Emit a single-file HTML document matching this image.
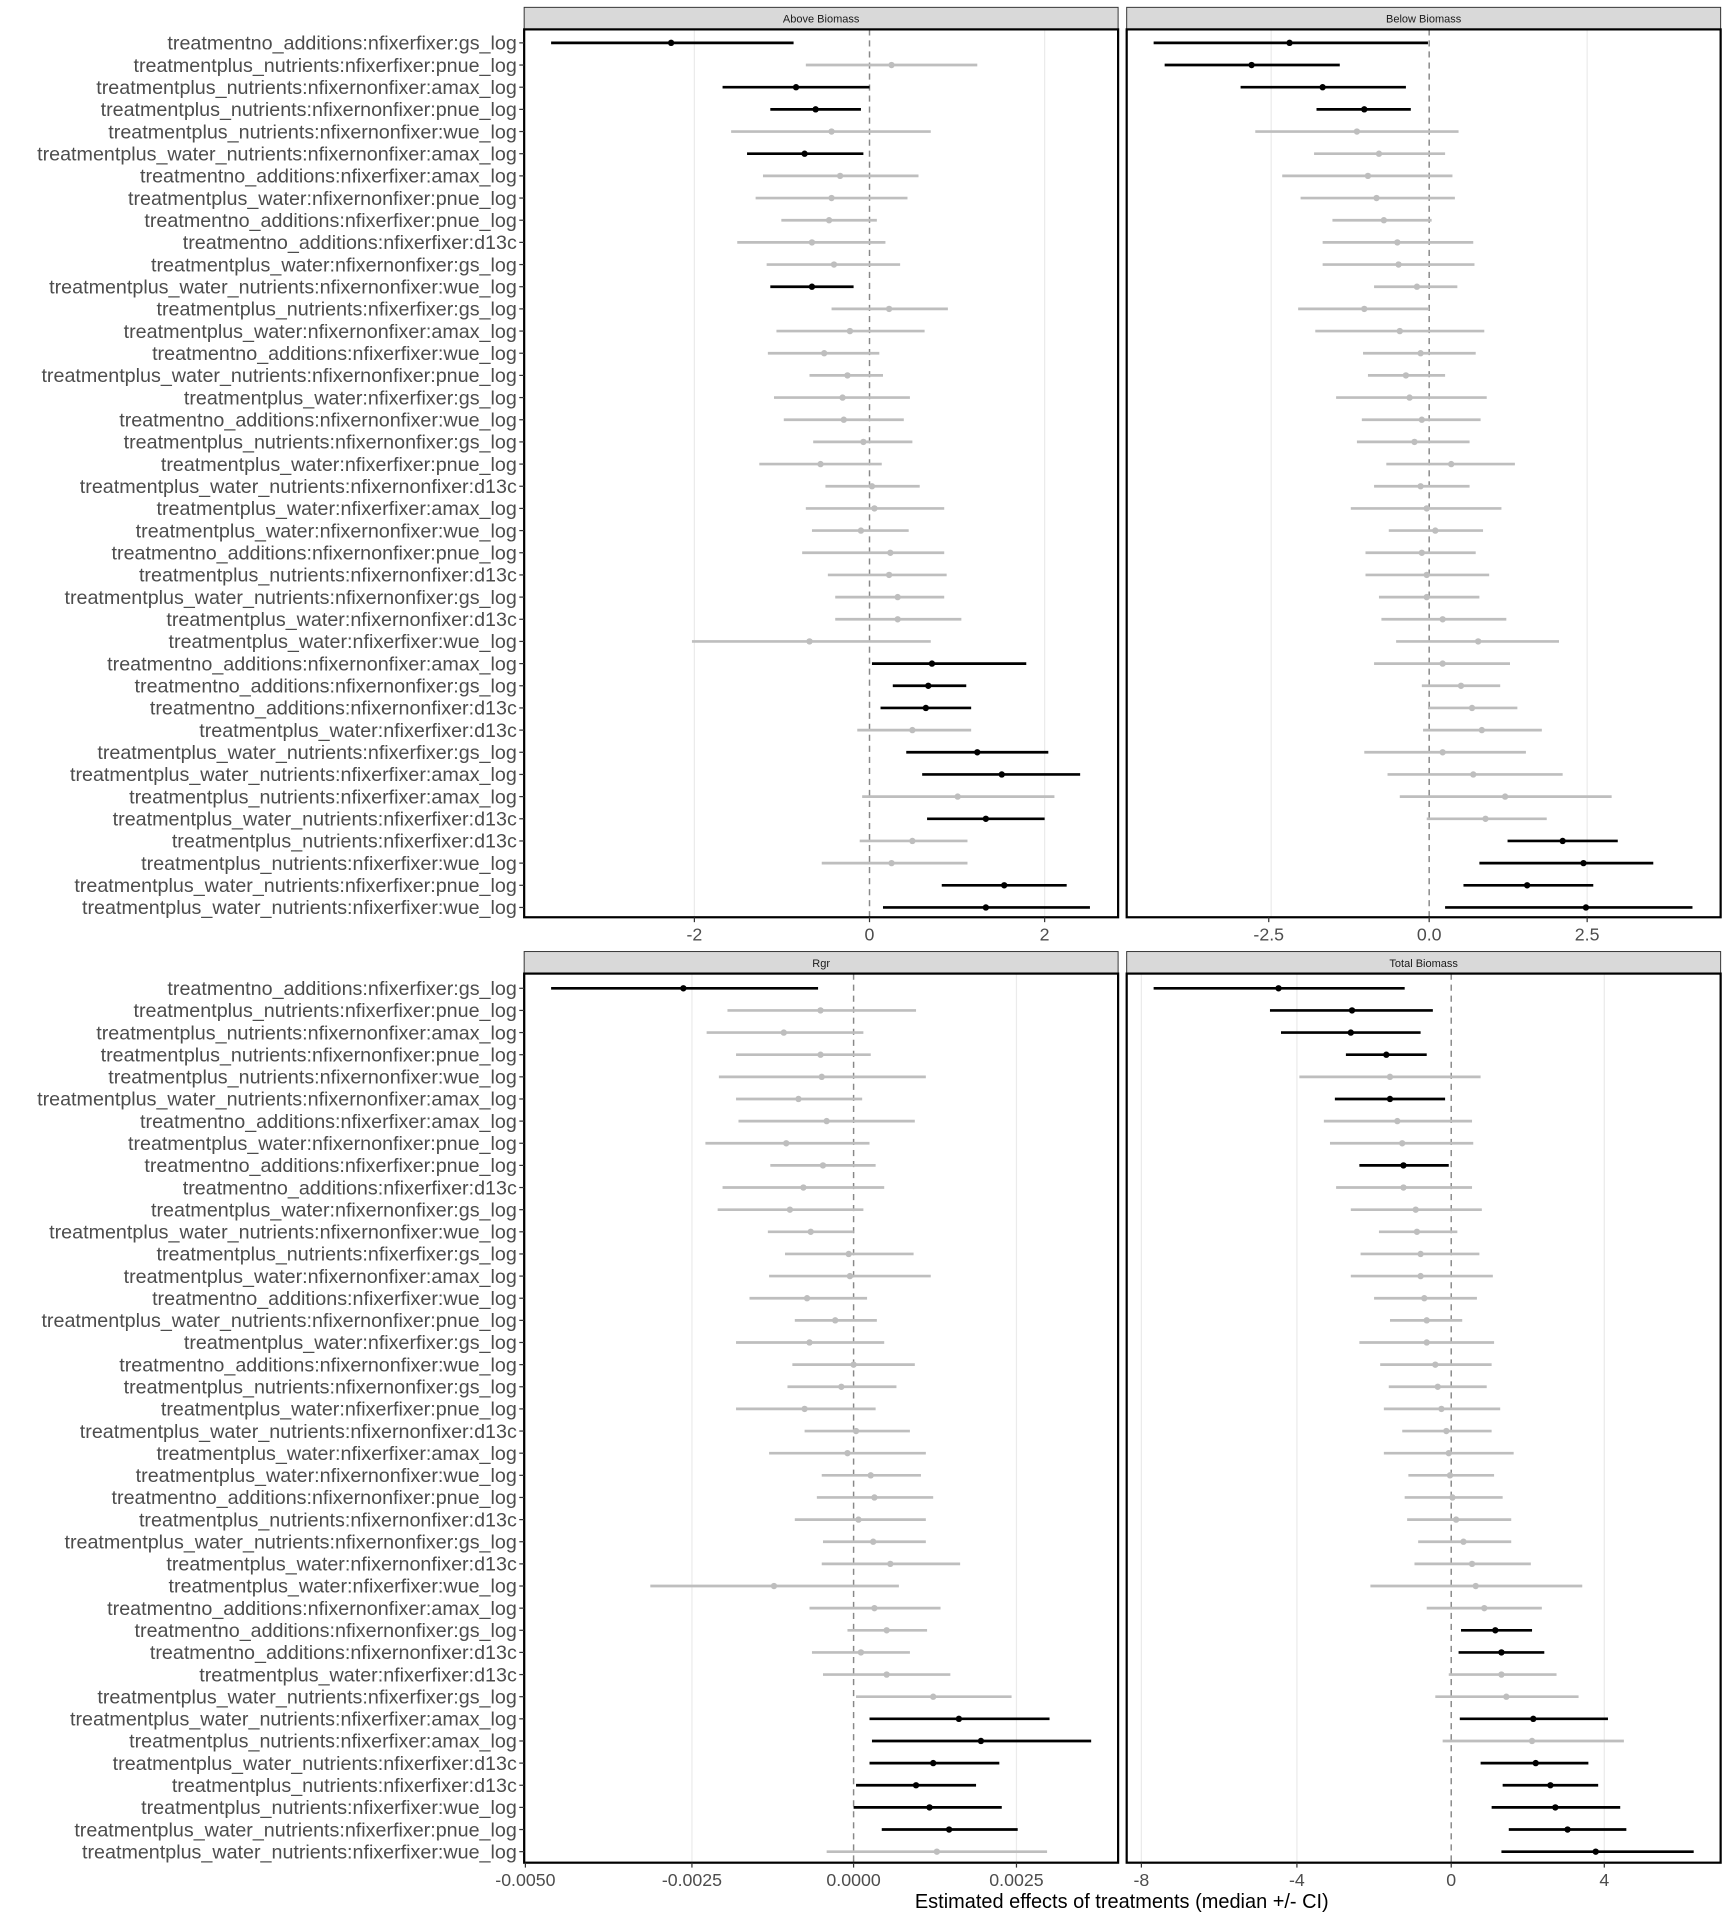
<!DOCTYPE html>
<html><head><meta charset="utf-8"><style>html,body{margin:0;padding:0;background:#fff}svg{display:block}</style></head>
<body>
<svg id="s" width="1728" height="1920" viewBox="0 0 1411 1567.8" xmlns="http://www.w3.org/2000/svg" font-family="Liberation Sans, sans-serif"></svg>
<script>
const topL=["treatmentno_additions:nfixerfixer:gs_log","treatmentplus_nutrients:nfixerfixer:pnue_log","treatmentplus_nutrients:nfixernonfixer:amax_log","treatmentplus_nutrients:nfixernonfixer:pnue_log","treatmentplus_nutrients:nfixernonfixer:wue_log","treatmentplus_water_nutrients:nfixernonfixer:amax_log","treatmentno_additions:nfixerfixer:amax_log","treatmentplus_water:nfixernonfixer:pnue_log","treatmentno_additions:nfixerfixer:pnue_log","treatmentno_additions:nfixerfixer:d13c","treatmentplus_water:nfixernonfixer:gs_log","treatmentplus_water_nutrients:nfixernonfixer:wue_log","treatmentplus_nutrients:nfixerfixer:gs_log","treatmentplus_water:nfixernonfixer:amax_log","treatmentno_additions:nfixerfixer:wue_log","treatmentplus_water_nutrients:nfixernonfixer:pnue_log","treatmentplus_water:nfixerfixer:gs_log","treatmentno_additions:nfixernonfixer:wue_log","treatmentplus_nutrients:nfixernonfixer:gs_log","treatmentplus_water:nfixerfixer:pnue_log","treatmentplus_water_nutrients:nfixernonfixer:d13c","treatmentplus_water:nfixerfixer:amax_log","treatmentplus_water:nfixernonfixer:wue_log","treatmentno_additions:nfixernonfixer:pnue_log","treatmentplus_nutrients:nfixernonfixer:d13c","treatmentplus_water_nutrients:nfixernonfixer:gs_log","treatmentplus_water:nfixernonfixer:d13c","treatmentplus_water:nfixerfixer:wue_log","treatmentno_additions:nfixernonfixer:amax_log","treatmentno_additions:nfixernonfixer:gs_log","treatmentno_additions:nfixernonfixer:d13c","treatmentplus_water:nfixerfixer:d13c","treatmentplus_water_nutrients:nfixerfixer:gs_log","treatmentplus_water_nutrients:nfixerfixer:amax_log","treatmentplus_nutrients:nfixerfixer:amax_log","treatmentplus_water_nutrients:nfixerfixer:d13c","treatmentplus_nutrients:nfixerfixer:d13c","treatmentplus_nutrients:nfixerfixer:wue_log","treatmentplus_water_nutrients:nfixerfixer:pnue_log","treatmentplus_water_nutrients:nfixerfixer:wue_log"];
const botL=topL;
const TL=`1 450 548 648
0 658 728 798
1 590 650 710
1 629 666 703
0 597 679 760
1 610 657 705
0 623 686 750
0 617 679 741
0 638 677 716
0 602 663 723
0 626 681 735
1 629 663 697
0 679 726 774
0 634 694 755
0 627 673 718
0 661 692 721
0 632 688 743
0 640 689 738
0 664 705 745
0 620 670 720
0 674 712 751
0 658 714 771
0 663 703 742
0 655 727 771
0 676 726 773
0 682 733 771
0 682 733 785
0 565 661 760
1 712 761 838
1 729 758 789
1 719 756 793
0 700 745 793
1 740 798 856
1 753 818 882
0 704 782 861
1 757 805 853
0 702 745 790
0 671 728 790
1 769 820 871
1 721 805 890`;
const TR=`1 942 1053 1166
1 951 1022 1094
1 1013 1080 1148
1 1075 1114 1152
0 1025 1108 1191
0 1073 1126 1180
0 1047 1117 1186
0 1062 1124 1188
0 1088 1130 1169
0 1080 1141 1203
0 1080 1142 1204
0 1122 1157 1190
0 1060 1114 1167
0 1074 1143 1212
0 1113 1160 1205
0 1117 1148 1180
0 1091 1151 1214
0 1112 1161 1209
0 1108 1155 1200
0 1132 1185 1237
0 1122 1160 1200
0 1103 1165 1226
0 1134 1172 1211
0 1115 1161 1205
0 1115 1165 1216
0 1126 1165 1208
0 1128 1178 1230
0 1140 1207 1273
0 1122 1178 1233
0 1161 1193 1225
0 1166 1202 1239
0 1162 1210 1259
0 1114 1178 1246
0 1133 1203 1276
0 1143 1229 1316
0 1165 1213 1263
1 1231 1276 1321
1 1208 1293 1350
1 1195 1247 1301
1 1180 1295 1382`;
const BL=`1 450 558 668
0 594 670 748
0 577 640 705
0 601 670 711
0 587 671 756
0 601 652 704
0 603 675 747
0 576 642 710
0 629 672 715
0 590 656 722
0 586 645 705
0 627 662 697
0 641 693 746
0 628 694 760
0 612 659 708
0 649 682 716
0 601 661 722
0 647 697 747
0 643 687 732
0 601 657 715
0 657 699 743
0 628 692 756
0 671 711 752
0 667 714 762
0 649 701 756
0 672 713 756
0 671 727 784
0 531 632 734
0 661 714 768
0 692 724 757
0 663 703 743
0 672 724 776
0 699 762 826
1 710 783 857
1 712 801 891
1 710 762 816
1 699 748 797
1 697 759 818
1 720 775 831
0 675 765 855`;
const BR=`1 942 1044 1147
1 1037 1104 1170
1 1046 1103 1160
1 1099 1132 1165
0 1061 1135 1209
1 1090 1135 1180
0 1081 1141 1202
0 1086 1145 1203
1 1110 1146 1183
0 1091 1146 1202
0 1103 1156 1210
0 1126 1157 1190
0 1111 1160 1208
0 1103 1160 1219
0 1122 1163 1206
0 1135 1165 1194
0 1110 1165 1220
0 1127 1172 1218
0 1134 1174 1214
0 1130 1177 1225
0 1145 1181 1218
0 1130 1183 1236
0 1150 1184 1220
0 1147 1186 1227
0 1149 1189 1234
0 1158 1195 1234
0 1155 1202 1250
0 1119 1205 1292
0 1165 1212 1259
1 1193 1221 1251
1 1191 1226 1261
0 1183 1226 1271
0 1172 1230 1289
1 1192 1252 1313
0 1178 1251 1326
1 1209 1254 1297
1 1227 1266 1305
1 1218 1270 1323
1 1232 1280 1328
1 1226 1303 1383`;
let o='';
function panel(x0,x1,sy,py0,py1,title,grid,zero,ticks,data,labels){
  const y0=py0===24?35:807, step=py0===24?(741-35)/39:(1512-807)/39;
  o+=`<rect x="${x0}" y="${sy}" width="${x1-x0}" height="${py0-sy}" fill="#d9d9d9" stroke="#333" stroke-width="0.8"/>`;
  o+=`<text x="${(x0+x1)/2}" y="${sy+12.5}" font-size="9" fill="#1a1a1a" text-anchor="middle">${title}</text>`;
  for(const g of grid) o+=`<line x1="${g}" x2="${g}" y1="${py0}" y2="${py1}" stroke="#ebebeb" stroke-width="1"/>`;
  o+=`<line x1="${zero}" x2="${zero}" y1="${py0}" y2="${py1}" stroke="#888" stroke-width="1.2" stroke-dasharray="5,4"/>`;
  data.trim().split('\n').forEach((r,i)=>{const [b,l,m,h]=r.trim().split(/\s+/).map(Number);const y=y0+i*step;const c=b?'#000':'#bebebe';
    o+=`<line x1="${l}" x2="${h}" y1="${y}" y2="${y}" stroke="${c}" stroke-width="2.2"/><circle cx="${m}" cy="${y}" r="2.6" fill="${c}"/>`;});
  o+=`<rect x="${x0}" y="${py0}" width="${x1-x0}" height="${py1-py0}" fill="none" stroke="#000" stroke-width="1.8"/>`;
  for(const [tx,tl] of ticks){o+=`<line x1="${tx}" x2="${tx}" y1="${py1}" y2="${py1+4}" stroke="#333"/><text x="${tx}" y="${py1+19}" font-size="14.5" fill="#4d4d4d" text-anchor="middle">${tl}</text>`;}
  if(labels){labels.forEach((t,i)=>{const y=y0+i*step;o+=`<line x1="${x0-4}" x2="${x0}" y1="${y}" y2="${y}" stroke="#333"/><text x="${x0-6}" y="${y+5.5}" font-size="16.1" fill="#4d4d4d" text-anchor="end">${t}</text>`;});}
}
panel(428,913,6,24,749,"Above Biomass",[567,853],710,[[567,"-2"],[710,"0"],[853,"2"]],TL,topL);
panel(920,1405,6,24,749,"Below Biomass",[1038,1296],1167,[[1036,"-2.5"],[1167,"0.0"],[1296,"2.5"]],TR,null);
panel(428,913,777,795,1521,"Rgr",[429,565,830],697,[[429,"-0.0050"],[565,"-0.0025"],[697,"0.0000"],[830,"0.0025"]],BL,botL);
panel(920,1405,777,795,1521,"Total Biomass",[932,1059,1310],1185,[[932,"-8"],[1059,"-4"],[1185,"0"],[1310,"4"]],BR,null);
o+=`<text x="916" y="1558" font-size="16.3" fill="#000" text-anchor="middle">Estimated effects of treatments (median +/- CI)</text>`;
document.getElementById('s').innerHTML=o;
</script>
</body></html>
